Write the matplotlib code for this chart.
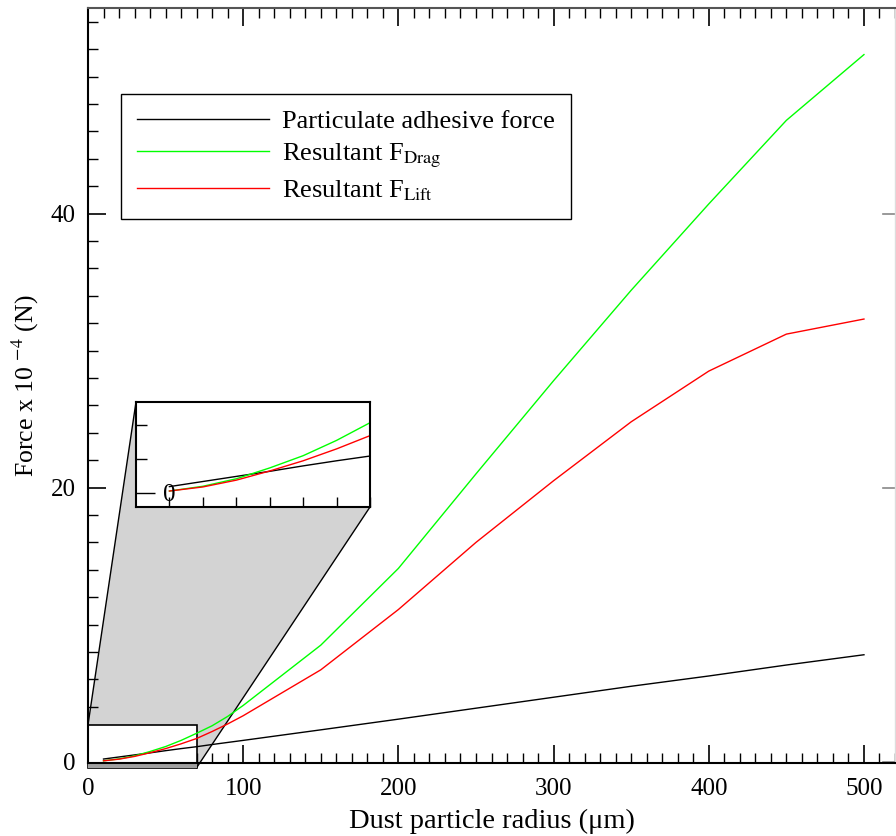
import matplotlib
matplotlib.use("Agg")
import matplotlib.pyplot as plt
from matplotlib.patches import Polygon, Rectangle
from matplotlib.lines import Line2D
import numpy as np

plt.rcParams['font.family'] = ['Liberation Serif', 'DejaVu Serif']
plt.rcParams['mathtext.fontset'] = 'stix'

# ---- data ----
radius = [10, 20, 30, 40, 50, 60, 70, 80, 90, 100, 150, 200, 250, 300, 350, 400, 450, 500]
adhesive = [0.19, 0.34, 0.49, 0.64, 0.80, 0.95, 1.09, 1.25, 1.40, 1.55, 2.32, 3.10, 3.90, 4.70, 5.50, 6.25, 7.05, 7.80]
drag = [0.06, 0.20, 0.42, 0.74, 1.10, 1.55, 2.07, 2.62, 3.30, 4.10, 8.50, 14.10, 21.0, 27.8, 34.4, 40.7, 46.8, 51.6]
lift = [0.06, 0.18, 0.38, 0.65, 0.95, 1.30, 1.69, 2.20, 2.75, 3.35, 6.70, 11.10, 16.0, 20.5, 24.8, 28.5, 31.2, 32.3]
labels = ['Particulate adhesive force', r'Resultant F$_{\mathrm{Drag}}$', r'Resultant F$_{\mathrm{Lift}}$']
colors = ['black', '#00ff00', '#ff0000']
xticks = [0, 100, 200, 300, 400, 500]
yticks = [0, 20, 40]

W, H = 896, 836
fig = plt.figure(figsize=(W / 100, H / 100), dpi=100)

def fx(px):
    return px / W

def fy(py):
    return 1 - py / H

ax = fig.add_axes([fx(88), fy(763), fx(895) - fx(88), fy(8) - fy(763)])
ax.set_xlim(0, 520)
ax.set_ylim(-0.1, 55)

series = [adhesive, drag, lift]
for s, c, l in zip(series, colors, labels):
    ax.plot(radius, s, color=c, lw=1.0, label=l, zorder=3)

ax.set_xticks(xticks)
ax.set_yticks(yticks)
ax.set_xticks(np.arange(0, 521, 10), minor=True)
ax.set_yticks(np.arange(0, 55, 2), minor=True)
ax.tick_params(axis='both', which='major', direction='in', length=13, width=1.2,
               labelsize=18, pad=9, top=True, right=False)
ax.tick_params(axis='x', which='major', pad=11)
ax.tick_params(axis='both', which='minor', direction='in', length=7, width=1.0,
               top=True, right=False)
for sp in ['left', 'bottom']:
    ax.spines[sp].set_linewidth(1.5)
ax.spines['top'].set_color('#555555')
ax.spines['top'].set_linewidth(1.5)
ax.spines['right'].set_color('#dddddd')
ax.spines['right'].set_linewidth(1.0)
# faint right ticks
for yv in yticks:
    ax.plot([1, 0.985], [yv, yv], transform=ax.get_yaxis_transform(), color='#888888', lw=1.2, clip_on=False)

ax.set_xlabel('Dust particle radius (μm)', fontsize=20.5, labelpad=6)
ax.set_ylabel('Force x 10 $^{-4}$ (N)', fontsize=18.5, labelpad=7)

leg = ax.legend(loc='upper left', bbox_to_anchor=(0.0244, 0.9035), fontsize=19,
                handlelength=5.0, handletextpad=0.5, labelspacing=0.32,
                borderpad=0.6, fancybox=False, framealpha=1, edgecolor='black')
leg.get_frame().set_linewidth(1.0)

# ---- inset ----
ins_box = [fx(136), fy(507), fx(370) - fx(136), fy(402) - fy(507)]
zoom_x = (0, 70)
zoom_y = (-0.44, 2.69)

fig.canvas.draw()
to_fig = fig.transFigure.inverted()
p_tl = to_fig.transform(ax.transData.transform((zoom_x[0], zoom_y[1])))
p_br = to_fig.transform(ax.transData.transform((zoom_x[1], zoom_y[0])))
i_tl = (ins_box[0], ins_box[1] + ins_box[3])
i_br = (ins_box[0] + ins_box[2], ins_box[1])
poly = Polygon([p_tl, i_tl, i_br, p_br], closed=True, facecolor='#d3d3d3',
               edgecolor='none', transform=fig.transFigure, clip_on=False, zorder=1.5)
ax.add_patch(poly)
for a, b in [(p_tl, i_tl), (p_br, i_br)]:
    ax.add_line(Line2D([a[0], b[0]], [a[1], b[1]], color='black', lw=1.0,
                       transform=fig.transFigure, clip_on=False, zorder=1.6))
rect = Rectangle((zoom_x[0], zoom_y[0]), zoom_x[1] - zoom_x[0], zoom_y[1] - zoom_y[0],
                 facecolor='white', edgecolor='black', lw=1.2, clip_on=False, zorder=1.7)
ax.add_patch(rect)
strip = Rectangle((zoom_x[0], zoom_y[0]), zoom_x[1] - zoom_x[0], -0.1 - zoom_y[0],
                  facecolor='#a0a0a0', edgecolor='none', clip_on=False, zorder=1.8)
ax.add_patch(strip)

axins = fig.add_axes(ins_box)
for s, c in zip(series, colors):
    axins.plot(radius, s, color=c, lw=1.0)
axins.set_xlim(0, 70)
axins.set_ylim(-0.41, 2.68)
axins.set_xticks(np.arange(10, 71, 10))
axins.set_yticks([0])
axins.set_yticks([1, 2], minor=True)
axins.tick_params(axis='x', direction='in', length=7, width=1.0, labelbottom=False)
axins.tick_params(axis='y', which='major', direction='in', length=14, width=1.0, labelleft=False)
axins.tick_params(axis='y', which='minor', direction='in', length=8, width=1.0)
for sp in axins.spines.values():
    sp.set_linewidth(1.5)
axins.text(10, -0.05, '0', fontsize=18, ha='center', va='center')

fig.savefig('out.png', dpi=100)
